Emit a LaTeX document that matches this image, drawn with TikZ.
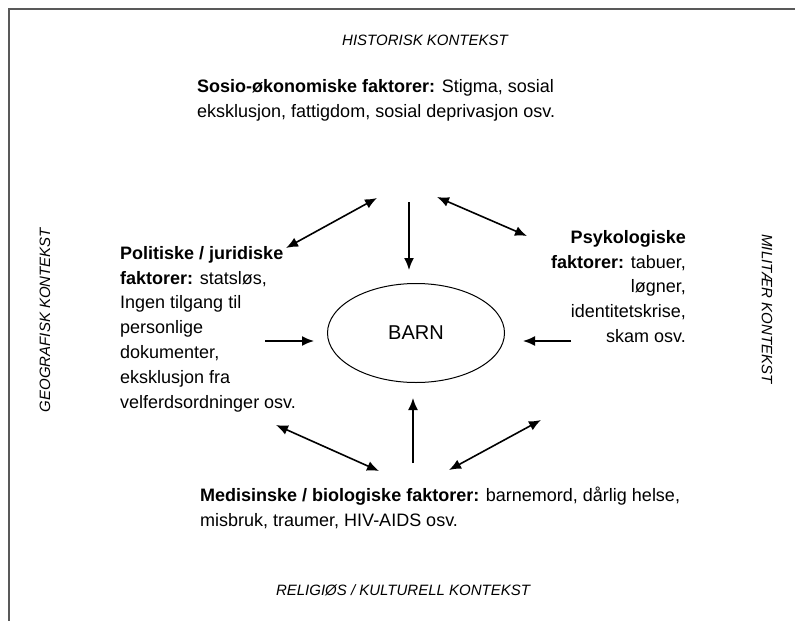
\documentclass[tikz,border=0pt]{standalone}
\usepackage{fontspec}
\setmainfont{Liberation Sans}
\usetikzlibrary{shapes.geometric, arrows.meta}

\begin{document}
\begin{tikzpicture}[x=1pt,y=-1pt,
  factor/.style={inner sep=0pt, font=\fontsize{18}{24.8}\selectfont, text=black},
  context/.style={inner sep=0pt, font=\fontsize{15}{18}\selectfont\itshape, text=black},
  oneway/.style={line width=1.6pt, color=black, -{Latex[length=12pt,width=10pt]}},
  twoway/.style={line width=1.6pt, color=black, {Latex[length=12pt,width=10pt]}-{Latex[length=12pt,width=10pt]}}]
\useasboundingbox (0,0) rectangle (795,621);
% frame
\draw[line width=2pt, color=black!65] (9,621) -- (9,9) -- (795,9);
% contexts
\node[context] (hist) at (425,40) {HISTORISK KONTEKST};
\node[context] (rel) at (403,590) {RELIGIØS / KULTURELL KONTEKST};
\node[context, rotate=90] (geo) at (45,320) {GEOGRAFISK KONTEKST};
\node[context, rotate=-90] (mil) at (767,309) {MILITÆR KONTEKST};
% child
\node[draw, ellipse, line width=1pt, minimum width=177pt, minimum height=99pt,
  font=\fontsize{20}{24}\selectfont] (barn) at (416,333) {BARN};
% factors
\node[factor, align=left, anchor=north west] (sosio) at (197,79)
  {\textbf{Sosio-økonomiske faktorer:} Stigma, sosial\\
   eksklusjon, fattigdom, sosial deprivasjon osv.};
\node[factor, align=left, anchor=north west] (polit) at (120,246)
  {\textbf{Politiske / juridiske}\\
   \textbf{faktorer:} statsløs,\\
   Ingen tilgang til\\
   personlige\\
   dokumenter,\\
   eksklusjon fra\\
   velferdsordninger osv.};
\node[factor, align=right, anchor=north east] (psyk) at (686,230)
  {\textbf{Psykologiske}\\
   \textbf{faktorer:} tabuer,\\
   løgner,\\
   identitetskrise,\\
   skam osv.};
\node[factor, align=left, anchor=north west] (med) at (200,487)
  {\textbf{Medisinske / biologiske faktorer:} barnemord, dårlig helse,\\
   misbruk, traumer, HIV-AIDS osv.};
% arrow ends
\coordinate (s1) at (377,198);
\coordinate (s2) at (409,202);
\coordinate (s3) at (437,197);
\coordinate (p1) at (286,248);
\coordinate (p2) at (265,341);
\coordinate (p3) at (276,425);
\coordinate (k1) at (527,236);
\coordinate (k2) at (571,341);
\coordinate (k3) at (541,420);
\coordinate (m1) at (379,471);
\coordinate (m2) at (413,463);
\coordinate (m3) at (449,470);
\coordinate (b1) at (409,270);
\coordinate (b2) at (314,341);
\coordinate (b3) at (523,341);
\coordinate (b4) at (413,398);
% arrows
\draw[twoway] (s1) -- (p1);
\draw[oneway] (s2) -- (b1);
\draw[twoway] (s3) -- (k1);
\draw[oneway] (p2) -- (b2);
\draw[oneway] (k2) -- (b3);
\draw[oneway] (m2) -- (b4);
\draw[twoway] (p3) -- (m1);
\draw[twoway] (k3) -- (m3);
\end{tikzpicture}
\end{document}
